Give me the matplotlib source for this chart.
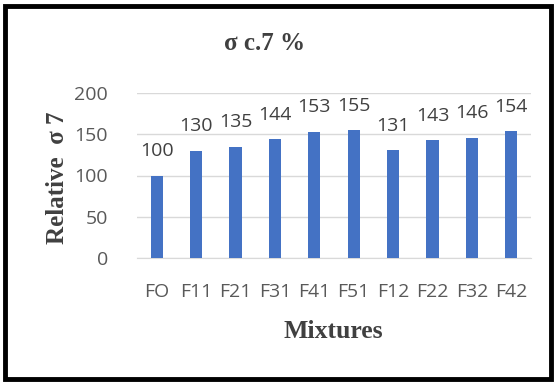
import matplotlib
matplotlib.use("Agg")
import matplotlib.pyplot as plt
from matplotlib.patches import Rectangle

categories = ["FO", "F11", "F21", "F31", "F41", "F51", "F12", "F22", "F32", "F42"]
values = [100, 130, 135, 144, 153, 155, 131, 143, 146, 154]
yticks = [0, 50, 100, 150, 200]

W, H = 556, 383
fig = plt.figure(figsize=(W / 100, H / 100), dpi=100)

# plot area in pixel coordinates
left, right, top, bottom = 137, 531, 93, 258
ax = fig.add_axes([left / W, 1 - bottom / H, (right - left) / W, (bottom - top) / H])

x = range(len(categories))
ax.bar(x, values, width=0.31, color="#4472C4", zorder=3)
ax.set_xlim(-0.5, len(categories) - 0.5)
ax.set_ylim(0, 200)
ax.set_yticks(yticks)
ax.set_xticks(list(x))
ax.set_xticklabels(categories)

sans = "Open Sans"
for lab in ax.get_xticklabels() + ax.get_yticklabels():
    lab.set_fontfamily(sans)
    lab.set_fontsize(14)
    lab.set_color("#595959")
ax.tick_params(axis="both", length=0)
ax.tick_params(axis="x", pad=18)
ax.tick_params(axis="y", pad=21)

ax.grid(axis="y", color="#D9D9D9", linewidth=1, zorder=0)
for s in ["top", "right", "left"]:
    ax.spines[s].set_visible(False)
ax.spines["bottom"].set_color("#D9D9D9")

for xi, v in zip(x, values):
    ax.annotate(str(v), (xi, v), xytext=(0, 11), textcoords="offset points",
                ha="center", va="bottom", fontfamily=sans, fontsize=14,
                color="#404040")

fig.text(265 / W, 1 - 43 / H, "σ c.7 %", ha="center", va="center",
         fontfamily="Liberation Serif", fontweight="bold", fontsize=18,
         color="#404040")
fig.text(57 / W, 1 - 178 / H, "Relative  σ 7", ha="center", va="center",
         rotation=90, fontfamily="Liberation Serif", fontweight="bold",
         fontsize=18, color="#404040")
fig.text(333 / W, 1 - 331 / H, "Mixtures", ha="center", va="center",
         fontfamily="Liberation Serif", fontweight="bold", fontsize=18.5,
         color="#404040")

# outer frame
fig.patches.append(Rectangle((5 / W, 4 / H), (551 - 5) / W, (378 - 5) / H,
                             transform=fig.transFigure, fill=False,
                             edgecolor="black", linewidth=3.5))

fig.savefig("out.png", dpi=100)
